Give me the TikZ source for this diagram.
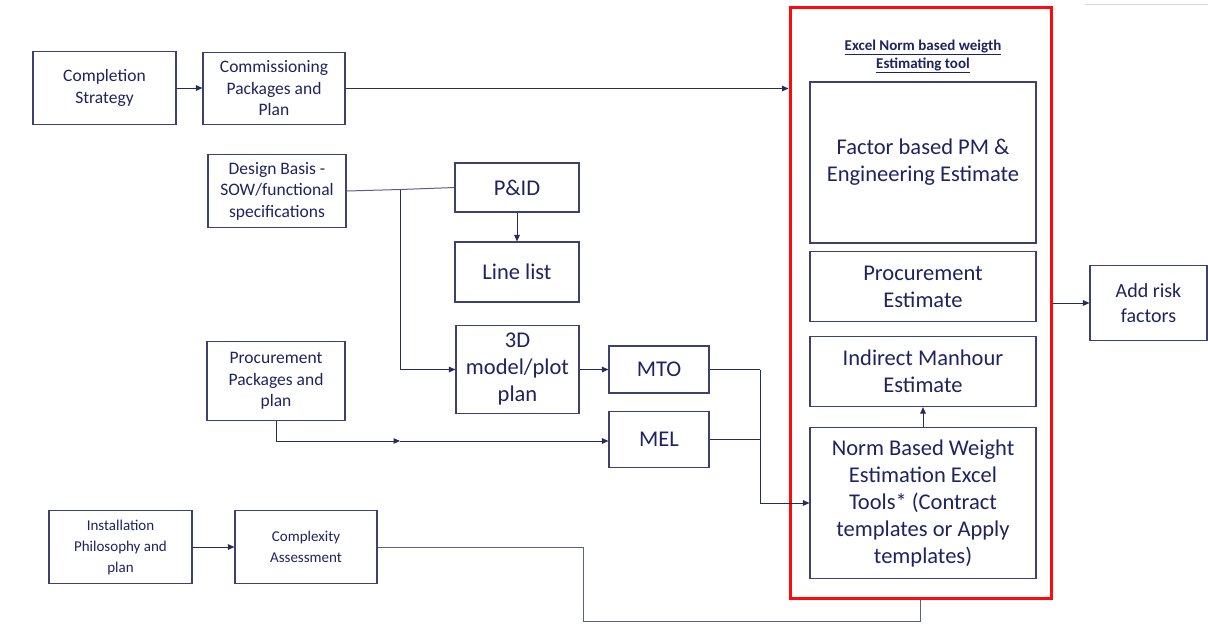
\documentclass[tikz,border=0pt]{standalone}
\usepackage{fontspec}
\setmainfont{Carlito}
\usetikzlibrary{arrows.meta}
\definecolor{navy}{HTML}{1F2361}
\definecolor{boxline}{HTML}{3C4170}
\definecolor{wire}{HTML}{272B5C}
\definecolor{softwire}{HTML}{5A5E88}
\definecolor{toolred}{HTML}{FF0A0A}
\begin{document}
\begin{tikzpicture}[x=1pt,y=-1pt,
  box/.style={draw=boxline,line width=1.1pt,rectangle,inner sep=2pt,align=center,text=navy},
  fsA/.style={font=\fontsize{17.5}{21.5}\selectfont},
  fsB/.style={font=\fontsize{15}{21}\selectfont},
  fsC/.style={font=\fontsize{22.5}{27}\selectfont},
  fsD/.style={font=\fontsize{20}{25}\selectfont},
  wireline/.style={draw=wire,line width=1pt},
  arr/.style={wireline,-{Triangle[length=6.5pt,width=5.5pt]}},
]
\useasboundingbox (0,0) rectangle (1208,625);
\fill[white] (0,0) rectangle (1208,625);
% faint rule at the top right
\draw[color=black!15,line width=1pt] (1085,4) -- (1208,4);

% left column of inputs
\node[box,fsA,minimum width=143,minimum height=73] (cs) at (104.5,88) {Completion\\Strategy};
\node[box,fsA,minimum width=142,minimum height=72] (cpp) at (274,88.5) {Commissioning\\Packages and\\Plan};
\node[box,fsA,minimum width=138,minimum height=73] (db) at (277,191) {Design Basis -\\SOW/functional\\specifications};
\node[box,fsA,minimum width=138,minimum height=79] (pp) at (276,381) {Procurement\\Packages and\\plan};
\node[box,fsB,minimum width=143,minimum height=73] (ip) at (120.5,547) {Installation\\Philosophy and\\plan};
\node[box,fsB,minimum width=142,minimum height=73] (ca) at (306,547) {Complexity\\Assessment};

% engineering deliverables
\node[box,fsC,minimum width=124,minimum height=49] (pid) at (517,187.5) {P\&ID};
\node[box,fsC,minimum width=124,minimum height=60] (ll) at (517,272) {Line list};
\node[box,fsC,minimum width=123,minimum height=88] (m3d) at (517.5,369.5) {3D\\model/plot\\plan};
\node[box,fsC,minimum width=100,minimum height=47] (mto) at (659,369.5) {MTO};
\node[box,fsC,minimum width=100,minimum height=56] (mel) at (659,439.5) {MEL};

% estimating tool frame
\node[draw=toolred,line width=3pt,rectangle,minimum width=261,minimum height=591,inner sep=0pt] (tool) at (920.5,302.5) {};
\node[align=center,text=navy,font=\bfseries\fontsize{15}{18}\selectfont] (title) at (923,56.5)
  {\underline{Excel Norm based weigth}\\\underline{Estimating tool}};
\node[box,fsC,minimum width=226,minimum height=161] (fac) at (923,162.5) {Factor based PM \&\\Engineering Estimate};
\node[box,fsC,minimum width=226,minimum height=70] (pe) at (923,286.5) {Procurement\\Estimate};
\node[box,fsC,minimum width=226,minimum height=70] (im) at (923,371.5) {Indirect Manhour\\Estimate};
\node[box,fsC,minimum width=226,minimum height=151] (nb) at (923,503) {Norm Based Weight\\Estimation Excel\\Tools* (Contract\\templates or Apply\\templates)};

\node[box,fsD,minimum width=117,minimum height=75] (risk) at (1148.5,303) {Add risk\\factors};

% connectors
\draw[arr] (cs.east) -- (cpp.west |- cs.east);
\draw[arr] (cpp.east) -- (cpp.east -| tool.west);

\coordinate (jn) at (400,189.5);
\draw[draw=softwire,line width=1pt] (db.east) -- (jn) -- (pid.west);
\draw[arr] (jn) |- (m3d.west);
\draw[arr] (pid.south) -- (ll.north);
\draw[arr] (m3d.east) -- (mto.west);

\coordinate (mid) at (400,441);
\draw[arr] (pp.south) |- (mid);
\draw[arr] (mid) -- (mid -| mel.west);

\coordinate (bus) at (760,369.5);
\draw[wireline] (mto.east) -- (bus);
\draw[wireline] (mel.east) -- (mel.east -| bus);
\draw[arr] (bus) |- (nb.west);

\draw[arr] (nb.north) -- (im.south);
\draw[arr] (risk.west -| tool.east) -- (risk.west);

\draw[arr] (ip.east) -- (ca.west);
\coordinate (c1) at (583,621);
\draw[draw=softwire,line width=1pt] (ca.east) -| (c1) -| (tool.south);
\end{tikzpicture}
\end{document}
